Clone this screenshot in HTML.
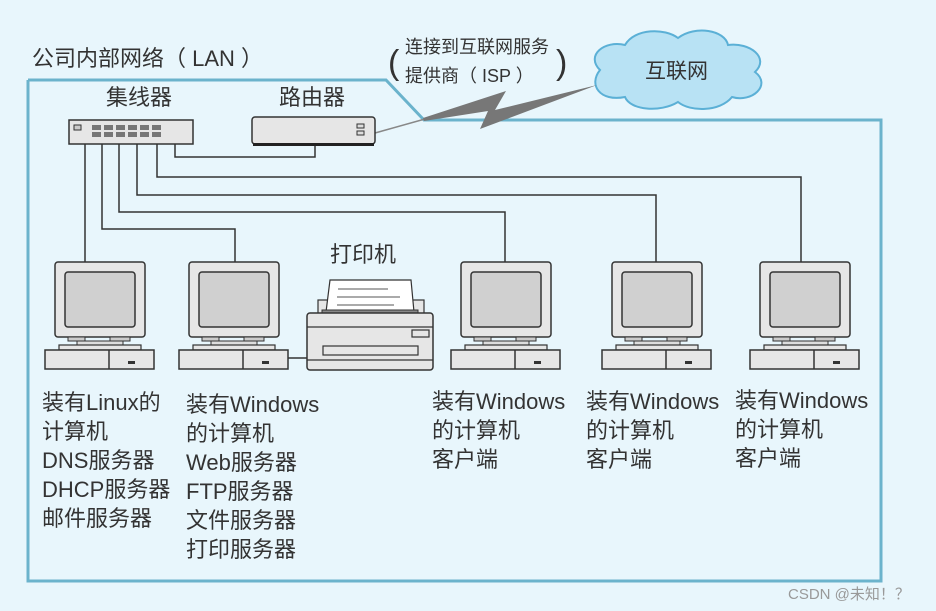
<!DOCTYPE html>
<html><head><meta charset="utf-8"><style>
html,body{margin:0;padding:0;background:#e8f6fc;}
svg{display:block;}
text{font-family:"Liberation Sans","Noto Sans CJK SC",sans-serif;fill:#333;}
</style></head><body>
<svg width="936" height="611" viewBox="0 0 936 611" xmlns="http://www.w3.org/2000/svg">
<defs>
<g id="pc">
  <rect x="0" y="262" width="90" height="75" rx="3" fill="#e6e6e6" stroke="#333" stroke-width="1.5"/>
  <rect x="10" y="272" width="70" height="55" rx="3" fill="#d0d0d0" stroke="#333" stroke-width="1.5"/>
  <rect x="13" y="337" width="17" height="4" fill="#ccc" stroke="#333" stroke-width="1"/>
  <rect x="55" y="337" width="20" height="4" fill="#ccc" stroke="#333" stroke-width="1"/>
  <rect x="22" y="341" width="46" height="4" fill="#ddd" stroke="#333" stroke-width="1"/>
  <rect x="4" y="345" width="82" height="5" fill="#e6e6e6" stroke="#333" stroke-width="1.2"/>
  <rect x="-10" y="350" width="109" height="19" fill="#e6e6e6" stroke="#333" stroke-width="1.5"/>
  <line x1="54" y1="350" x2="54" y2="369" stroke="#333" stroke-width="1.5"/>
  <rect x="73" y="361" width="7" height="3" fill="#333"/>
</g>
</defs>
<polyline points="28,80 386,80 424,120 881,120 881,581 28,581 28,80" fill="none" stroke="#6bb3cc" stroke-width="3"/>
<text x="32" y="66" font-size="22">公司内部网络（ LAN ）</text>
<text x="106" y="105" font-size="22">集线器</text>
<text x="279" y="105" font-size="22">路由器</text>
<text x="388" y="74" font-size="34" font-weight="300">(</text>
<text x="405" y="53" font-size="18">连接到互联网服务</text>
<text x="405" y="82" font-size="18">提供商（ ISP ）</text>
<text x="556" y="74" font-size="34" font-weight="300">)</text>
<path d="M600,70 C585,55 605,40 625,45 C635,28 665,28 678,38 C695,25 725,30 728,45 C750,42 770,58 755,72 C772,85 752,103 732,97 C720,112 690,112 678,102 C660,113 630,110 625,97 C600,102 588,85 600,70 Z" fill="#b8e2f4" stroke="#5bb0d6" stroke-width="2"/>
<text x="645" y="78" font-size="21">互联网</text>
<line x1="375" y1="133" x2="425" y2="119" stroke="#888" stroke-width="1.5"/>
<polygon points="423,118 506,91 495,110 597,85 480,129 488,111 424,121" fill="#777"/>
<rect x="69" y="120" width="124" height="24" fill="#e6e6e6" stroke="#333" stroke-width="1.5"/>
<rect x="74" y="125" width="7" height="5" fill="#ccc" stroke="#333" stroke-width="1"/>
<g fill="#777">
<rect x="92" y="125" width="9" height="5"/><rect x="104" y="125" width="9" height="5"/><rect x="116" y="125" width="9" height="5"/><rect x="128" y="125" width="9" height="5"/><rect x="140" y="125" width="9" height="5"/><rect x="152" y="125" width="9" height="5"/>
<rect x="92" y="132" width="9" height="5"/><rect x="104" y="132" width="9" height="5"/><rect x="116" y="132" width="9" height="5"/><rect x="128" y="132" width="9" height="5"/><rect x="140" y="132" width="9" height="5"/><rect x="152" y="132" width="9" height="5"/>
</g>
<rect x="252" y="117" width="123" height="27" rx="3" fill="#e6e6e6" stroke="#333" stroke-width="1.5"/>
<rect x="253" y="143" width="121" height="3" fill="#222"/>
<rect x="357" y="124" width="7" height="4" fill="#ddd" stroke="#333" stroke-width="1"/>
<rect x="357" y="131" width="7" height="4" fill="#ddd" stroke="#333" stroke-width="1"/>
<g fill="none" stroke="#333" stroke-width="1.5">
<polyline points="85,144 85,262"/>
<polyline points="102,144 102,229 235,229 235,262"/>
<polyline points="119,144 119,212 505,212 505,262"/>
<polyline points="137,144 137,195 656,195 656,262"/>
<polyline points="157,144 157,177 801,177 801,262"/>
<polyline points="175,144 175,157 315,157 315,146"/>
<line x1="288" y1="358" x2="307" y2="358"/>
</g>
<use href="#pc" x="55"/>
<use href="#pc" x="189"/>
<use href="#pc" x="461"/>
<use href="#pc" x="612"/>
<use href="#pc" x="760"/>
<rect x="318" y="300" width="106" height="14" fill="#e6e6e6" stroke="#333" stroke-width="1.2"/>
<polygon points="330,280 411,280 414,312 326,312" fill="#fff" stroke="#333" stroke-width="1.2"/>
<line x1="338" y1="289" x2="388" y2="289" stroke="#aaa" stroke-width="2"/>
<line x1="337" y1="297" x2="400" y2="297" stroke="#aaa" stroke-width="2"/>
<line x1="337" y1="305" x2="394" y2="305" stroke="#aaa" stroke-width="2"/>
<rect x="322" y="310" width="96" height="6" fill="#888" stroke="#333" stroke-width="1"/>
<rect x="307" y="313" width="126" height="57" rx="3" fill="#e6e6e6" stroke="#333" stroke-width="1.5"/>
<line x1="307" y1="327" x2="433" y2="327" stroke="#333" stroke-width="1.2"/>
<line x1="307" y1="360" x2="433" y2="360" stroke="#333" stroke-width="1.2"/>
<rect x="412" y="330" width="17" height="7" fill="#e6e6e6" stroke="#333" stroke-width="1.2"/>
<rect x="323" y="346" width="95" height="9" fill="#e6e6e6" stroke="#333" stroke-width="1.2"/>
<text x="330" y="262" font-size="22">打印机</text>
<g font-size="22">
<text x="42" y="410">装有Linux的</text>
<text x="42" y="439">计算机</text>
<text x="42" y="468">DNS服务器</text>
<text x="42" y="497">DHCP服务器</text>
<text x="42" y="526">邮件服务器</text>
<text x="186" y="412">装有Windows</text>
<text x="186" y="441">的计算机</text>
<text x="186" y="470">Web服务器</text>
<text x="186" y="499">FTP服务器</text>
<text x="186" y="528">文件服务器</text>
<text x="186" y="557">打印服务器</text>
<text x="432" y="409">装有Windows</text>
<text x="432" y="438">的计算机</text>
<text x="432" y="467">客户端</text>
<text x="586" y="409">装有Windows</text>
<text x="586" y="438">的计算机</text>
<text x="586" y="467">客户端</text>
<text x="735" y="408">装有Windows</text>
<text x="735" y="437">的计算机</text>
<text x="735" y="466">客户端</text>
</g>
<text x="788" y="599" font-size="15" style="fill:#999">CSDN @未知！？</text>
</svg>
</body></html>
